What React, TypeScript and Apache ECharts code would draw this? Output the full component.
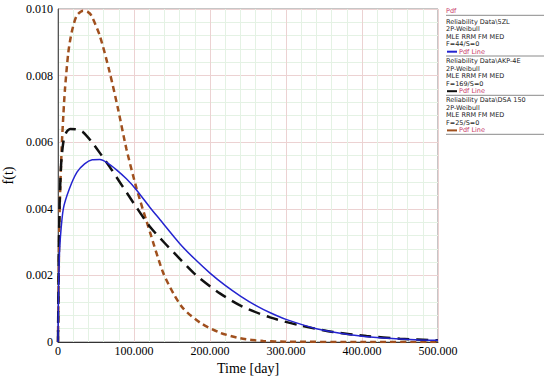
import React, { useEffect, useRef } from "react";
import * as echarts from "echarts";

// Time [day]
const blueT = [0, 0.5, 1.5, 3, 7, 15, 25, 35, 45, 55, 65, 77, 90, 103.5, 121, 134, 160, 180, 200, 220, 240, 260, 280, 300, 340, 384, 428, 470, 500];
const blueF = [0, 0.0012, 0.0024, 0.0031, 0.004, 0.0046, 0.0051, 0.00535, 0.00547, 0.00548, 0.00538, 0.00517, 0.0049, 0.00456, 0.00404, 0.00368, 0.00296, 0.00249, 0.00207, 0.0017, 0.00138, 0.0011, 0.00087, 0.00068, 0.0004, 0.00022, 0.00012, 0.00007, 0.00005];

const blackT = [0, 1, 2, 4, 7, 11, 16, 25, 33, 44, 57.5, 68, 79, 90, 101, 121, 140, 156, 182, 213, 243, 279, 318, 362, 406, 450, 500];
const blackF = [0, 0.0025, 0.004, 0.0053, 0.006, 0.0063, 0.0064, 0.00638, 0.0063, 0.00602, 0.0056, 0.00526, 0.00488, 0.0045, 0.00412, 0.00346, 0.00298, 0.0026, 0.002, 0.00146, 0.00106, 0.00074, 0.0005, 0.0003, 0.00018, 0.0001, 0.00005];

const brownT = [0, 2, 4.8, 7, 9.2, 13.6, 18, 24.6, 33, 40, 44, 55, 68, 79, 90, 103.5, 121, 138, 152, 165, 187, 213, 240, 270, 300, 400, 500];
const brownF = [0, 0.0038, 0.0058, 0.0068, 0.0076, 0.0087, 0.0093, 0.0098, 0.00995, 0.0099, 0.0098, 0.0092, 0.0081, 0.007, 0.0058, 0.0046, 0.0033, 0.0021, 0.00145, 0.001, 0.00058, 0.00028, 0.00011, 0.00003, 0.00001, 0, 0];

const xTicks = [0, 100, 200, 300, 400, 500];
const yTicks = [0, 0.002, 0.004, 0.006, 0.008, 0.01];

const legendBlocks = [
  { lines: ["Reliability Data\\5ZL", "2P-Weibull", "MLE RRM FM MED", "F=44/S=0"], color: "#2424d0" },
  { lines: ["Reliability Data\\AKP-4E", "2P-Weibull", "MLE RRM FM MED", "F=169/S=0"], color: "#111111" },
  { lines: ["Reliability Data\\DSA 150", "2P-Weibull", "MLE RRM FM MED", "F=25/S=0"], color: "#a0501e" },
];

const pair = (t: number[], f: number[]) => t.map((v, i) => [v, f[i]]);

export default function App() {
  const ref = useRef<HTMLDivElement>(null);
  useEffect(() => {
    document.body.style.margin = "0";
    if (!ref.current) return;
    const chart = echarts.init(ref.current, undefined, { renderer: "svg" });
    const fmt = (v: number) => (v === 0 ? "0" : v.toFixed(3));
    const graphic: any[] = [];
    const lx = 446;
    const font = '6.5px "DejaVu Sans"';
    const lh = 7.55;
    graphic.push({ type: "text", x: lx, y: 10.5, style: { text: "Pdf", fill: "#c83a6a", font, verticalAlign: "middle" } });
    const seps = [15.3, 56, 95.3, 134.3];
    seps.forEach((y) => {
      graphic.push({ type: "line", shape: { x1: lx, y1: y, x2: 544, y2: y }, style: { stroke: "#8a8a8a", lineWidth: 1 } });
    });
    const bases = [21.5, 61, 100.2];
    legendBlocks.forEach((b, bi) => {
      b.lines.forEach((ln, k) => {
        graphic.push({
          type: "text",
          x: lx,
          y: bases[bi] + k * lh,
          style: { text: ln, fill: "#222", font, verticalAlign: "middle" },
        });
      });
      const yl = bases[bi] + 4 * lh;
      graphic.push({ type: "line", shape: { x1: lx + 1, y1: yl, x2: lx + 11, y2: yl }, style: { stroke: b.color, lineWidth: 2 } });
      graphic.push({
        type: "text",
        x: lx + 13,
        y: yl,
        style: { text: "Pdf Line", fill: "#c83a6a", font, verticalAlign: "middle" },
      });
    });

    chart.setOption({
      animation: false,
      backgroundColor: "#fff",
      grid: {
        left: 58,
        right: 112,
        top: 9,
        bottom: 35,
        show: true,
        borderColor: "#8c8c8c",
        borderWidth: 1,
        containLabel: false,
        outerBoundsMode: "none",
      },
      xAxis: {
        type: "value",
        min: xTicks[0],
        max: xTicks[xTicks.length - 1],
        interval: 100,
        name: "Time [day]",
        nameLocation: "middle",
        nameGap: 17,
        nameTextStyle: { fontFamily: "Liberation Serif", fontSize: 14, color: "#000" },
        axisLine: { show: true, lineStyle: { color: "#333", width: 1 } },
        axisTick: { show: false },
        axisLabel: { formatter: fmt, fontFamily: "Liberation Serif", fontSize: 12, color: "#000", margin: 3 },
        splitLine: { show: true, lineStyle: { color: "#ecd2d2", width: 1 } },
        minorTick: { show: false, splitNumber: 5 },
        minorSplitLine: { show: true, lineStyle: { color: "#e4f2e4", width: 1 } },
      },
      yAxis: {
        type: "value",
        min: yTicks[0],
        max: yTicks[yTicks.length - 1],
        interval: 0.002,
        name: "f(t)",
        nameLocation: "middle",
        nameGap: 42,
        nameTextStyle: { fontFamily: "Liberation Serif", fontSize: 14, color: "#000" },
        axisLine: { show: true, lineStyle: { color: "#555", width: 1 } },
        axisTick: { show: false },
        axisLabel: { formatter: fmt, fontFamily: "Liberation Serif", fontSize: 12, color: "#000", margin: 5 },
        splitLine: { show: true, lineStyle: { color: "#ecd2d2", width: 1 } },
        minorTick: { show: false, splitNumber: 5 },
        minorSplitLine: { show: true, lineStyle: { color: "#e4f2e4", width: 1 } },
      },
      graphic,
      series: [
        {
          type: "line",
          data: pair(brownT, brownF),
          showSymbol: false,
          smooth: 0.25,
          lineStyle: { color: "#a0501e", width: 2.5, type: [6, 4] },
          z: 3,
        },
        {
          type: "line",
          data: pair(blackT, blackF),
          showSymbol: false,
          smooth: 0.25,
          lineStyle: { color: "#111", width: 2.5, type: [12, 7] },
          z: 4,
        },
        {
          type: "line",
          data: pair(blueT, blueF),
          showSymbol: false,
          smooth: 0.25,
          lineStyle: { color: "#2424d0", width: 1.5 },
          z: 5,
        },
      ],
    });
    return () => chart.dispose();
  }, []);
  return <div ref={ref} style={{ width: 550, height: 377 }} />;
}
